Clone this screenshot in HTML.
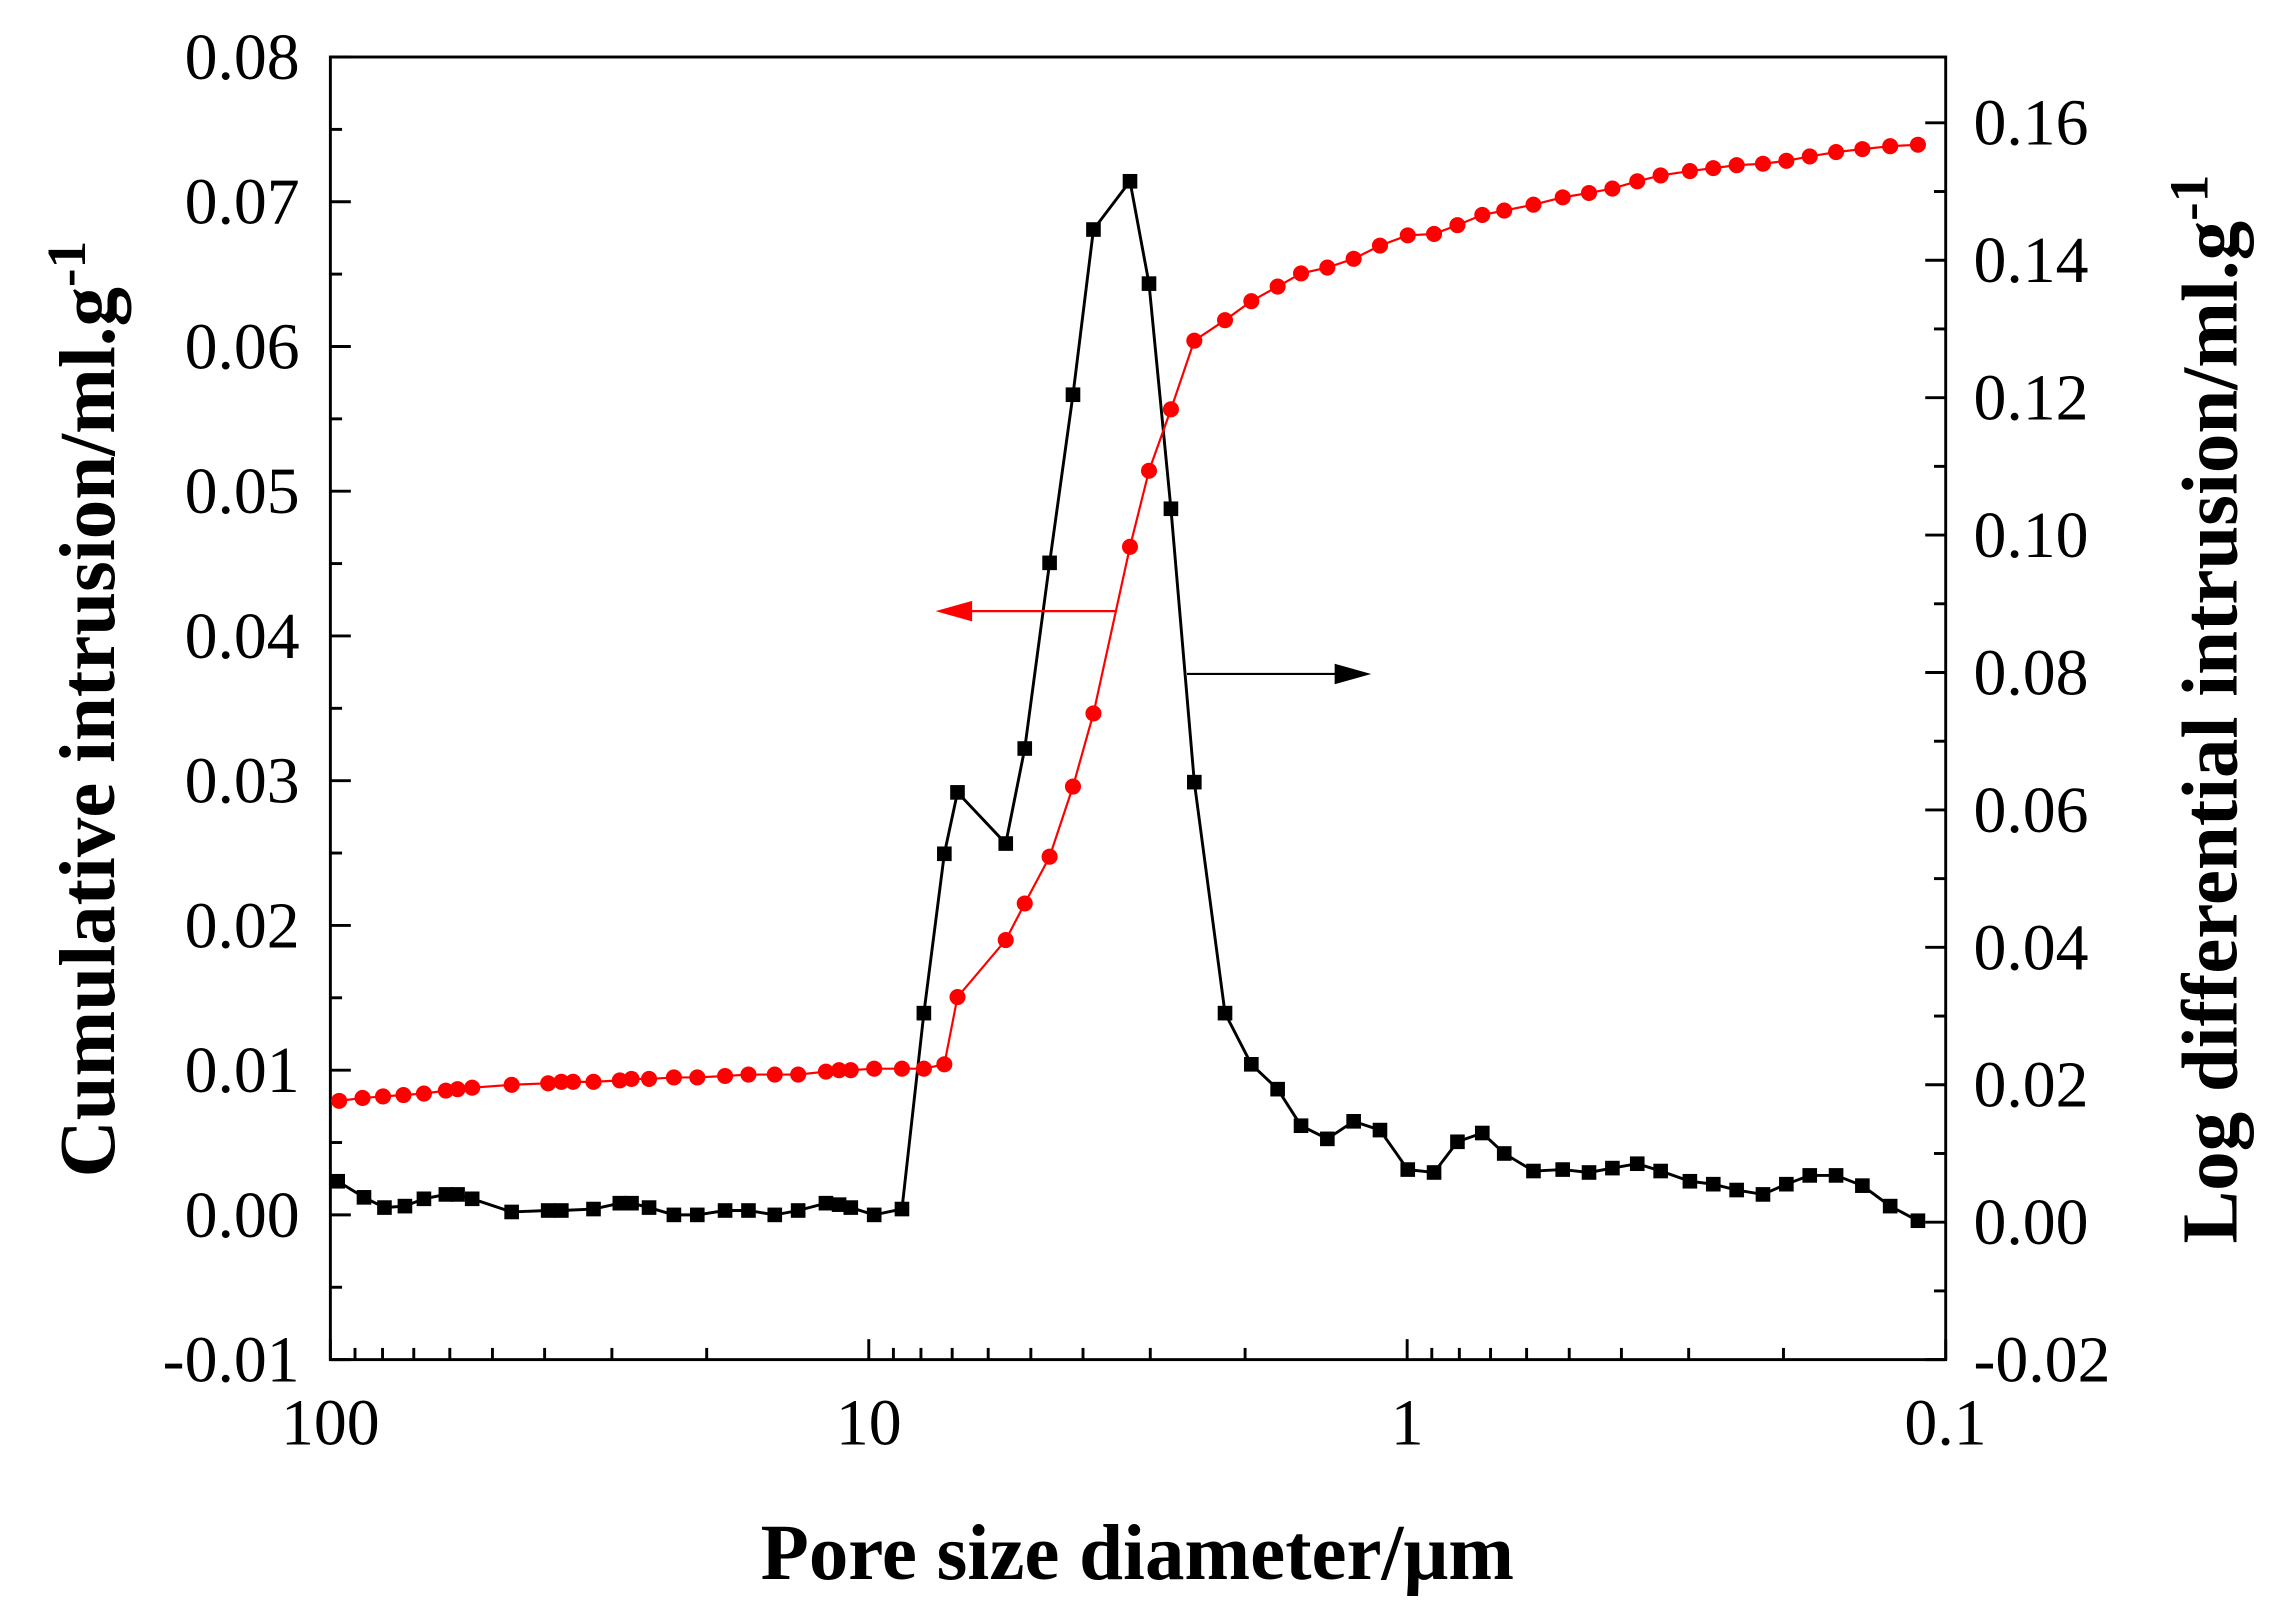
<!DOCTYPE html>
<html><head><meta charset="utf-8"><style>html,body{margin:0;padding:0;background:#fff}svg{display:block}</style></head>
<body>
<svg width="2279" height="1614" viewBox="0 0 1559 1104" preserveAspectRatio="none" xmlns="http://www.w3.org/2000/svg" font-family="'Liberation Serif',serif">
<rect width="1559" height="1104" fill="#fff"/>
<rect x="226" y="39" width="1105" height="891" fill="none" stroke="#000" stroke-width="2"/>
<g id="ticks" stroke="#000" stroke-width="2"></g>
<g id="labels" font-size="45" fill="#000"></g>
<polyline id="bl" fill="none" stroke="#000" stroke-width="2"/>
<polyline id="rl" fill="none" stroke="#f00" stroke-width="1.5"/>
<g id="bm" fill="#000"></g>
<g id="rm" fill="#f00"></g>
<line x1="763" y1="418" x2="660" y2="418" stroke="#f00" stroke-width="1.5"/>
<polygon points="640,418 665,411 665,425" fill="#f00"/>
<line x1="812" y1="461" x2="915" y2="461" stroke="#000" stroke-width="1.5"/>
<polygon points="938,461 913,454 913,468" fill="#000"/>
<text x="778" y="1080" font-size="54" font-weight="bold" text-anchor="middle">Pore size diameter/μm</text>
<text transform="translate(78,485) rotate(-90)" font-size="54" font-weight="bold" text-anchor="middle">Cumulative intrusion/ml.g<tspan dy="-20" font-size="38">-1</tspan></text>
<text transform="translate(1530,485) rotate(-90)" font-size="54" font-weight="bold" text-anchor="middle">Log differential intrusion/ml.g<tspan dy="-20" font-size="38">-1</tspan></text>
</svg>
<script>
const NS="http://www.w3.org/2000/svg";
function el(p,t,a,txt){const e=document.createElementNS(NS,t);for(const k in a)e.setAttribute(k,a[k]);if(txt!=null)e.textContent=txt;document.getElementById(p).appendChild(e);}
for(let i=0;i<=18;i++){const y=930-i*49.5;const L=i%2==0?14:8;el('ticks','line',{x1:226,y1:y,x2:226+L,y2:y});}
const ll=['-0.01','0.00','0.01','0.02','0.03','0.04','0.05','0.06','0.07','0.08'];
ll.forEach((t,i)=>el('labels','text',{x:205,y:930-i*99+15,'text-anchor':'end'},t));
for(let i=0;i<=19;i++){const y=930-i*47;if(y<39)break;const L=i%2==0?14:8;el('ticks','line',{x1:1331,y1:y,x2:1331-L,y2:y});}
const rl=['-0.02','0.00','0.02','0.04','0.06','0.08','0.10','0.12','0.14','0.16'];
rl.forEach((t,i)=>el('labels','text',{x:1350,y:930-i*94+15},t));
const dec=368.3;
for(let d=0;d<3;d++){const x0=226+dec*d;el('ticks','line',{x1:x0,y1:930,x2:x0,y2:916});
 for(let m=2;m<=9;m++){const x=x0+dec*(1-Math.log10(m));el('ticks','line',{x1:x,y1:930,x2:x,y2:922});}}
el('ticks','line',{x1:1331,y1:930,x2:1331,y2:916});
['100','10','1','0.1'].forEach((t,i)=>el('labels','text',{x:226+dec*i,y:988,'text-anchor':'middle'},t));
const B=[[231,808],[249,819],[263,826],[277,825],[290,820],[305,817],[313,817],[323,820],[350,829],[375,828],[384,828],[406,827],[424,823],[432,823],[444,826],[461,831],[477,831],[496,828],[512,828],[530,831],[546,828],[565,823],[574,824],[582,826],[598,831],[617,827],[632,693],[646,584],[655,542],[688,577],[701,512],[718,385],[734,270],[748,157],[773,124],[786,194],[801,348],[817,535],[838,693],[856,728],[874,745],[890,770],[908,779],[926,767],[944,773],[963,800],[981,802],[997,781],[1014,775],[1029,789],[1049,801],[1069,800],[1087,802],[1103,799],[1120,796],[1136,801],[1156,808],[1172,810],[1188,814],[1206,817],[1222,810],[1238,804],[1256,804],[1274,811],[1293,825],[1312,835]];
const R=[[232,753],[248,751],[262,750],[276,749],[290,748],[305,746],[313,745],[323,744],[350,742],[375,741],[384,740],[392,740],[406,740],[424,739],[432,738],[444,738],[461,737],[477,737],[496,736],[512,735],[530,735],[546,735],[565,733],[574,732],[582,732],[598,731],[617,731],[632,731],[646,728],[655,682],[688,643],[701,618],[718,586],[734,538],[748,488],[773,374],[786,322],[801,280],[817,233],[838,219],[856,206],[874,196],[890,187],[908,183],[926,177],[944,168],[963,161],[981,160],[997,154],[1014,147],[1029,144],[1049,140],[1069,135],[1087,132],[1103,129],[1120,124],[1136,120],[1156,117],[1172,115],[1188,113],[1206,112],[1222,110],[1238,107],[1256,104],[1274,102],[1293,100],[1312,99]];
document.getElementById('bl').setAttribute('points',B.map(p=>p.join(',')).join(' '));
document.getElementById('rl').setAttribute('points',R.map(p=>p.join(',')).join(' '));
B.forEach(p=>el('bm','rect',{x:p[0]-5,y:p[1]-5,width:10,height:10}));
R.forEach(p=>el('rm','circle',{cx:p[0],cy:p[1],r:5.5}));
</script>
</body></html>
